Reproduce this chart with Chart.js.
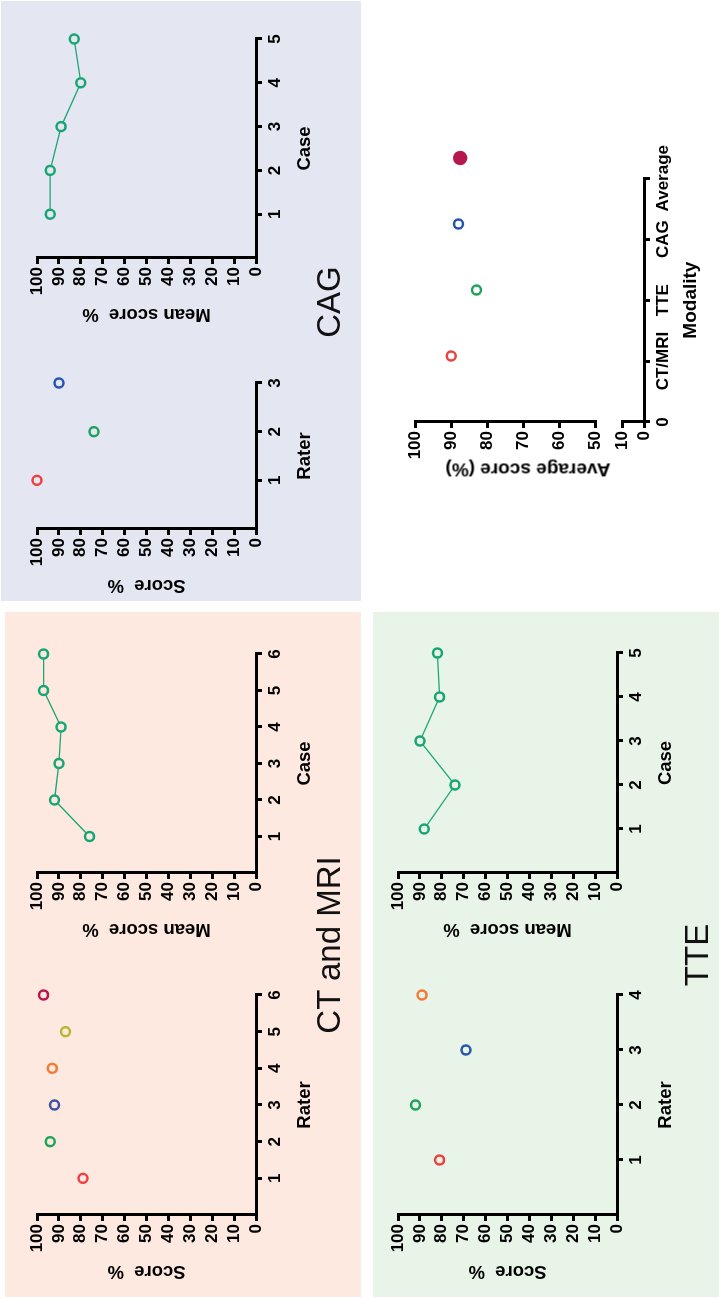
<!DOCTYPE html>
<html lang="en">
<head>
<meta charset="UTF-8">
<title>Rater and case scores by modality</title>
<script src="https://cdn.jsdelivr.net/npm/chart.js"></script>
<style>
  html, body { margin: 0; padding: 0; background: #fff; overflow: hidden; width: 719px; height: 1299px; }
  /* the figure is laid out landscape, then turned a quarter turn counter-clockwise */
  #page { position: absolute; left: 0; top: 0; width: 1299px; height: 719px;
          transform-origin: 0 0; transform: translateY(1299px) rotate(-90deg); }
  .panel, .box { position: absolute; }
  .big { position: absolute; font-family: 'Liberation Sans', Arial, sans-serif; font-size: 33px;
         color: #111; transform: translate(-50%, -50%); white-space: nowrap; line-height: 1; }
  .ytitle { position: absolute; font-family: 'Liberation Sans', Arial, sans-serif; font-size: 19px;
            font-weight: bold; color: #000; white-space: nowrap; line-height: 1;
            transform: translate(-50%, -50%) rotate(-90deg); }
</style>
</head>
<body>
<div id="page">
  <div class="panel" style="left:2px;top:5px;width:685px;height:356px;background:#fde9e0"></div>
  <div class="panel" style="left:698px;top:1px;width:600px;height:360px;background:#e4e6f2"></div>
  <div class="panel" style="left:2px;top:373px;width:685px;height:346px;background:#e9f4e9"></div>

  <div class="box" id="ctRaterBox"><canvas id="ctRater"></canvas></div>
  <div class="box" id="ctCaseBox"><canvas id="ctCase"></canvas></div>
  <div class="box" id="cagRaterBox"><canvas id="cagRater"></canvas></div>
  <div class="box" id="cagCaseBox"><canvas id="cagCase"></canvas></div>
  <div class="box" id="tteRaterBox"><canvas id="tteRater"></canvas></div>
  <div class="box" id="tteCaseBox"><canvas id="tteCase"></canvas></div>
  <div class="box" id="avgTopBox"><canvas id="avgTop"></canvas></div>
  <div class="box" id="avgBottomBox"><canvas id="avgBottom"></canvas></div>

  <div class="big" style="left:354px;top:328px">CT and MRI</div>
  <div class="big" style="left:997px;top:328px">CAG</div>
  <div class="big" style="left:344px;top:696px">TTE</div>
  <div class="ytitle" style="left:829px;top:528px">Average score (%)</div>
</div>

<script>
// ---- data ----
const ctRaters = [1, 2, 3, 4, 5, 6];
const ctRaterScores = [79, 94, 92, 93, 87, 97];
const ctCases = [1, 2, 3, 4, 5, 6];
const ctCaseMeans = [76, 92, 90, 89, 97, 97];

const cagRaters = [1, 2, 3];
const cagRaterScores = [100, 74, 90];
const cagCases = [1, 2, 3, 4, 5];
const cagCaseMeans = [94, 94, 89, 80, 83];

const tteRaters = [1, 2, 3, 4];
const tteRaterScores = [81, 92, 69, 89];
const tteCases = [1, 2, 3, 4, 5];
const tteCaseMeans = [88, 74, 90, 81, 82];

const modalities = ['CT/MRI', 'TTE', 'CAG', 'Average'];
const modalityAverages = [90, 83, 88, 87.5];

// ---- styles ----
const RED = '#ef4040', GREEN = '#1ea35a', BLUE = '#2456b0', ORANGE = '#f27a35',
      OLIVE = '#b8b52e', CRIMSON = '#b5174f', TEAL = '#17a673', INDIGO = '#3f4fa6';
const ctColors = [RED, GREEN, INDIGO, ORANGE, OLIVE, CRIMSON];
const cagColors = [RED, GREEN, BLUE];
const tteColors = [RED, GREEN, BLUE, ORANGE];
const avgColors = [RED, GREEN, BLUE, CRIMSON];

// plot areas in the landscape frame
const plots = {
  ctRater:   {l: 84,   r: 304,  t: 37,  b: 256},
  ctCase:    {l: 426,  r: 645,  t: 37,  b: 256},
  cagRater:  {l: 770,  r: 916,  t: 37,  b: 256},
  cagCase:   {l: 1041, r: 1260, t: 37,  b: 256},
  tteRater:  {l: 84,   r: 304,  t: 398, b: 617},
  tteCase:   {l: 426,  r: 646,  t: 398, b: 617},
  avgTop:    {l: 877,  r: 1141, t: 415, b: 607},
  avgBottom: {l: 877,  r: 1141, t: 622, b: 644}
};

Chart.defaults.font.family = "'Liberation Sans', Arial, sans-serif";
Chart.defaults.color = '#000';

function place(id, plot, yW, xH, pad) {
  const el = document.getElementById(id + 'Box');
  const left = plot.l - yW - pad.left;
  const top = plot.t - pad.top;
  el.style.left = left + 'px';
  el.style.top = top + 'px';
  el.style.width = (plot.r + pad.right - left) + 'px';
  el.style.height = (plot.b + xH + pad.bottom - top) + 'px';
}

function axis(min, max, step, opts) {
  return {
    type: 'linear',
    display: opts.display !== false,
    min: min, max: max,
    border: { display: true, color: '#000', width: 3 },
    grid: {
      display: true, drawOnChartArea: false, drawTicks: true, tickLength: 6, lineWidth: 3,
      tickWidth: 3,
      tickColor: ctx => (opts.noZero && ctx.tick && ctx.tick.value === 0) ? 'rgba(0,0,0,0)' : '#000'
    },
    ticks: {
      stepSize: step, autoSkip: false, maxRotation: 0, padding: opts.tickPad || 3,
      color: '#000', font: { size: opts.tickSize || 17, weight: 'bold' },
      callback: opts.labels || (v => (opts.noZero && v === 0) ? '' : v)
    },
    title: opts.title ? {
      display: true, text: opts.title, padding: 0, color: '#000',
      font: { size: opts.titleSize || 18.5, weight: 'bold' }
    } : { display: false },
    afterFit: s => { if (opts.size != null) { if (s.isHorizontal()) s.height = opts.size; else s.width = opts.size; } }
  };
}

function pts(xs, ys) {
  return xs.map((x, i) => ({ x: x, y: ys[i] }));
}

function makeChart(id, datasets, xAxis, yAxis, yW, xH) {
  const pad = { top: 14, right: 16, bottom: 2, left: 2 };
  place(id, plots[id], yW, xH, pad);
  return new Chart(document.getElementById(id), {
    type: 'scatter',
    data: { datasets: datasets },
    options: {
      responsive: true, maintainAspectRatio: false, animation: false,
      layout: { padding: pad, autoPadding: false },
      plugins: { legend: { display: false }, tooltip: { enabled: false } },
      scales: { x: xAxis, y: yAxis }
    }
  });
}

function raterSet(xs, ys, colors) {
  return { data: pts(xs, ys), showLine: false, clip: false, pointRadius: 4.5, pointBorderWidth: 2.5,
           pointBorderColor: colors, pointBackgroundColor: 'rgba(0,0,0,0)' };
}
function caseSet(xs, ys, bg) {
  return { data: pts(xs, ys), showLine: true, clip: false, borderColor: TEAL, borderWidth: 1.3,
           pointRadius: 4.5, pointBorderWidth: 2.5, pointBorderColor: TEAL, pointBackgroundColor: bg };
}

const Y_W = 67, X_H = 60;
function scoreAxis(title) { return axis(0, 100, 10, { title: title, size: Y_W }); }

makeChart('ctRater', [raterSet(ctRaters, ctRaterScores, ctColors)],
  axis(0, ctRaters.length, 1, { title: 'Rater', size: X_H, noZero: true }), scoreAxis('Score  %'), Y_W, X_H);
makeChart('ctCase', [caseSet(ctCases, ctCaseMeans, '#fde9e0')],
  axis(0, ctCases.length, 1, { title: 'Case', size: X_H, noZero: true }), scoreAxis('Mean score  %'), Y_W, X_H);

makeChart('cagRater', [raterSet(cagRaters, cagRaterScores, cagColors)],
  axis(0, cagRaters.length, 1, { title: 'Rater', size: X_H, noZero: true }), scoreAxis('Score  %'), Y_W, X_H);
makeChart('cagCase', [caseSet(cagCases, cagCaseMeans, '#e4e6f2')],
  axis(0, cagCases.length, 1, { title: 'Case', size: X_H, noZero: true }), scoreAxis('Mean score  %'), Y_W, X_H);

makeChart('tteRater', [raterSet(tteRaters, tteRaterScores, tteColors)],
  axis(0, tteRaters.length, 1, { title: 'Rater', size: X_H, noZero: true }), scoreAxis('Score  %'), Y_W, X_H);
makeChart('tteCase', [caseSet(tteCases, tteCaseMeans, '#e9f4e9')],
  axis(0, tteCases.length, 1, { title: 'Case', size: X_H, noZero: true }), scoreAxis('Mean score  %'), Y_W, X_H);

// average panel: broken value axis drawn as two stacked charts sharing the modality scale
const modalityPos = modalities.map((m, i) => i + 1);
const avgSet = {
  data: pts(modalityPos, modalityAverages), showLine: false, clip: false,
  pointRadius: modalityPos.map((p, i) => i === modalities.length - 1 ? 6 : 4.5),
  pointBorderWidth: 2.5, pointBorderColor: avgColors,
  pointBackgroundColor: avgColors.map((c, i) => i === modalities.length - 1 ? c : 'rgba(0,0,0,0)')
};
makeChart('avgTop', [avgSet],
  axis(0, modalities.length, 1, { display: false }),
  axis(50, 100, 10, { size: 40, tickSize: 17 }), 40, 0);
makeChart('avgBottom', [],
  axis(0, modalities.length, 1, { title: 'Modality', titleSize: 19, tickSize: 17, size: 58,
    labels: v => v === 0 ? '0' : modalities[v - 1] }),
  axis(0, 10, 10, { size: 40, tickSize: 17 }), 40, 58);
</script>
</body>
</html>
